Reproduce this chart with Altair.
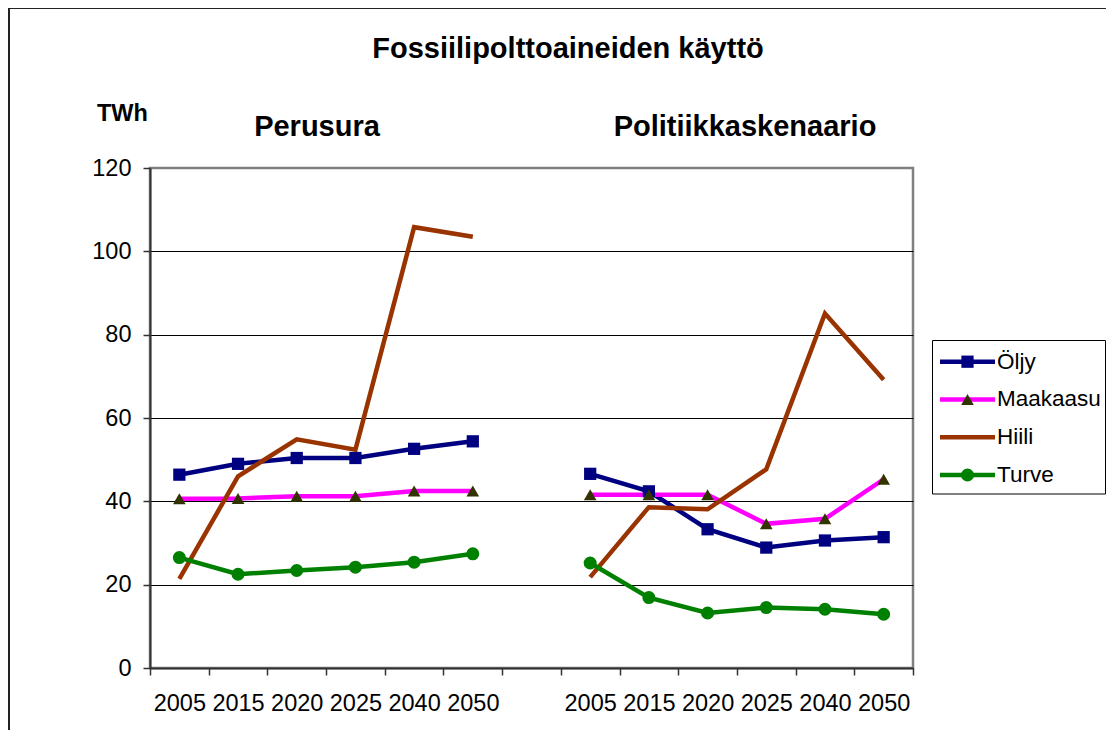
import altair as alt
import pandas as pd

# ---------------- data ----------------
years = ["2005", "2015", "2020", "2025", "2040", "2050"]
series_names = ["Öljy", "Maakaasu", "Hiili", "Turve"]
scenario_keys = ["P", "S"]
scenario_titles = ["Perusura", "Politiikkaskenaario"]

perus_oljy = [46.4, 49.0, 50.4, 50.4, 52.6, 54.4]
perus_maakaasu = [40.6, 40.7, 41.2, 41.2, 42.5, 42.5]
perus_hiili = [21.4, 46.0, 54.9, 52.4, 105.8, 103.5]
perus_turve = [26.5, 22.5, 23.4, 24.2, 25.4, 27.4]

pol_oljy = [46.6, 42.4, 33.3, 28.9, 30.6, 31.4]
pol_maakaasu = [41.6, 41.6, 41.6, 34.6, 35.8, 45.3]
pol_hiili = [21.8, 38.6, 38.1, 47.7, 85.1, 69.2]
pol_turve = [25.2, 16.9, 13.2, 14.5, 14.1, 12.9]

marker_series = ["Öljy", "Maakaasu", "Turve"]

line_colors = ["#000080", "#FF00FF", "#993300", "#008000"]
marker_colors = ["#000080", "#333300", "#008000"]
marker_shapes = ["square", "triangle-up", "circle"]
marker_sizes = [150, 170, 200]

values = {
    "P": [perus_oljy, perus_maakaasu, perus_hiili, perus_turve],
    "S": [pol_oljy, pol_maakaasu, pol_hiili, pol_turve],
}

rows = []
for sk in scenario_keys:
    for name, vals in zip(series_names, values[sk]):
        for y, v in zip(years, vals):
            rows.append({"key": sk + y, "scenario": sk, "series": name, "value": v})
df = pd.DataFrame(rows)

x_domain = ["P" + y for y in years] + ["gap"] + ["S" + y for y in years]

legend_df = pd.DataFrame({"series": series_names, "row": list(range(len(series_names)))})
one = pd.DataFrame({"a": [0]})

FONT = "Liberation Sans"

stroke_scale = alt.Scale(domain=series_names, range=line_colors)
fill_scale = alt.Scale(domain=marker_series, range=marker_colors)
shape_scale = alt.Scale(domain=marker_series, range=marker_shapes)
size_scale = alt.Scale(domain=marker_series, range=marker_sizes)

x_enc = alt.X(
    "key:N",
    sort=x_domain,
    bandPosition=0.5,
    scale=alt.Scale(type="band", domain=x_domain, paddingInner=0, paddingOuter=0),
    axis=alt.Axis(
        title=None,
        labelExpr="length(datum.value + '') == 5 ? substring(datum.value + '', 1) : ''",
        labelAngle=0,
        labelFontSize=23.5,
        labelFont=FONT,
        labelColor="#000000",
        labelPadding=16,
        tickBand="extent",
        tickSize=7,
        tickColor="#333333",
        tickWidth=1.5,
        domainColor="#333333",
        domainWidth=2,
        grid=False,
    ),
)

y_enc = alt.Y(
    "value:Q",
    scale=alt.Scale(domain=[0, 120], nice=False),
    axis=alt.Axis(
        title=None,
        values=[0, 20, 40, 60, 80, 100, 120],
        labelFontSize=23.5,
        labelFont=FONT,
        labelColor="#000000",
        labelPadding=12,
        tickSize=7,
        tickColor="#333333",
        tickWidth=1.5,
        domainColor="#333333",
        domainWidth=2,
        grid=True,
        gridColor={"condition": {"test": "datum.value === 120", "value": "#808080"}, "value": "#000000"},
        gridWidth=1,
    ),
)

base = alt.Chart(df)

lines = base.mark_line(strokeWidth=4.5).encode(
    x=x_enc,
    y=y_enc,
    stroke=alt.Stroke("series:N", scale=stroke_scale, legend=None),
    detail="scenario:N",
)

points = base.transform_filter(
    alt.FieldOneOfPredicate(field="series", oneOf=marker_series)
).mark_point(filled=True, opacity=1, strokeWidth=0).encode(
    x=x_enc,
    y=y_enc,
    fill=alt.Fill("series:N", scale=fill_scale, legend=None),
    shape=alt.Shape("series:N", scale=shape_scale, legend=None),
    size=alt.Size("series:N", scale=size_scale, legend=None),
)

main = alt.layer(lines, points)

# frame of the whole chart (top and left edges)
frame_left = alt.Chart(one).mark_rule(color="#222222", strokeWidth=2).encode(
    x=alt.value(-141), y=alt.value(-161), y2=alt.value(700)
)
frame_top = alt.Chart(one).mark_rule(color="#222222", strokeWidth=2).encode(
    x=alt.value(-142), x2=alt.value(1100), y=alt.value(-160)
)

title = alt.Chart(one).mark_text(
    text="Fossiilipolttoaineiden käyttö", font=FONT, fontSize=29, fontWeight="bold",
    align="center", baseline="alphabetic", color="#000000",
).encode(x=alt.value(418), y=alt.value(-110.5))

sub1 = alt.Chart(one).mark_text(
    text=scenario_titles[0], font=FONT, fontSize=29, fontWeight="bold",
    align="center", baseline="alphabetic", color="#000000",
).encode(x=alt.value(167), y=alt.value(-32.5))

sub2 = alt.Chart(one).mark_text(
    text=scenario_titles[1], font=FONT, fontSize=29, fontWeight="bold",
    align="center", baseline="alphabetic", color="#000000",
).encode(x=alt.value(595), y=alt.value(-32.5))

unit = alt.Chart(one).mark_text(
    text="TWh", font=FONT, fontSize=23.5, fontWeight="bold",
    align="left", baseline="alphabetic", color="#000000",
).encode(x=alt.value(-53), y=alt.value(-47.5))

# ---------------- legend ----------------
leg_y = alt.Y("row:Q", scale=alt.Scale(domain=[0, 3], range=[193.7, 307]), axis=None)

leg_box = alt.Chart(one).mark_rect(fill="white", stroke="#000000", strokeWidth=1).encode(
    x=alt.value(782.5), x2=alt.value(955.5), y=alt.value(172.5), y2=alt.value(326)
)
leg_lines = alt.Chart(legend_df).mark_rule(strokeWidth=4.5).encode(
    x=alt.value(790), x2=alt.value(845), y=leg_y,
    stroke=alt.Stroke("series:N", scale=stroke_scale, legend=None),
)
leg_points = alt.Chart(legend_df).transform_filter(
    alt.FieldOneOfPredicate(field="series", oneOf=marker_series)
).mark_point(filled=True, opacity=1, strokeWidth=0).encode(
    x=alt.value(817.5), y=leg_y,
    fill=alt.Fill("series:N", scale=fill_scale, legend=None),
    shape=alt.Shape("series:N", scale=shape_scale, legend=None),
    size=alt.Size("series:N", scale=size_scale, legend=None),
)
leg_text = alt.Chart(legend_df).mark_text(
    font=FONT, fontSize=22.5, align="left", baseline="middle", color="#000000"
).encode(x=alt.value(847), y=leg_y, text="series:N")

legend = alt.layer(leg_box, leg_lines, leg_points, leg_text)

chart = alt.layer(
    frame_left, frame_top, main, title, sub1, sub2, unit, legend
).resolve_scale(y="independent").properties(
    width=763,
    height=500,
    autosize=alt.AutoSizeParams(type="none"),
    padding={"left": 142, "top": 160, "right": 193, "bottom": 62},
    background="white",
).configure(font=FONT).configure_view(stroke="#808080", strokeWidth=2.5)

chart.save("out.html", embed_options={"renderer": "svg", "actions": False})
